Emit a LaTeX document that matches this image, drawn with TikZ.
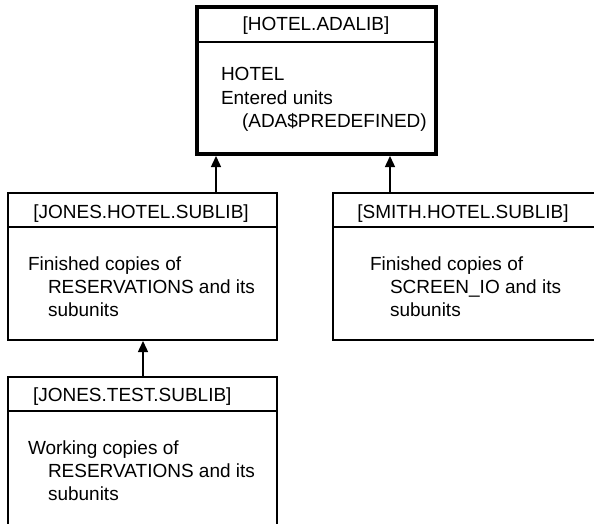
\documentclass[tikz,border=0pt]{standalone}
\usepackage{fontspec}
\setmainfont{Liberation Sans}
\usetikzlibrary{arrows.meta}
\begin{document}
\begin{tikzpicture}[x=1pt,y=-1pt,
  every node/.style={inner sep=0pt,outer sep=0pt,font=\fontsize{19}{23}\selectfont},
  libbox/.style={draw,line width=1.6pt,rectangle,anchor=north west},
  topbox/.style={draw,line width=3.2pt,rectangle,anchor=north west},
  txt/.style={anchor=base west},
  hdr/.style={anchor=base},
  conn/.style={line width=1.4pt,-{Triangle[length=11pt,width=10pt]}}
]
\useasboundingbox (0,0) rectangle (594,524);
\clip (0,0) rectangle (594,524);
% top library
\node[topbox,minimum width=239pt,minimum height=147pt] (top) at (197,7) {};
\coordinate (topL) at (197,42);
\coordinate (topR) at (436,42);
\draw[line width=2pt] (topL) -- (topR);
\node[hdr] (toph) at (316,31) {[HOTEL.ADALIB]};
\node[txt] (t1) at (221,81) {HOTEL};
\node[txt] (t2) at (221,105) {Entered units};
\node[txt] (t3) at (242,128) {(ADA\$PREDEFINED)};
% jones hotel
\node[libbox,minimum width=269pt,minimum height=147pt] (jh) at (8,193) {};
\coordinate (jhL) at (8,227);
\coordinate (jhR) at (277,227);
\draw[line width=1.6pt] (jhL) -- (jhR);
\node[hdr] (jhh) at (141,218) {[JONES.HOTEL.SUBLIB]};
\node[txt] (j1) at (28,270) {Finished copies of};
\node[txt] (j2) at (48,293) {RESERVATIONS and its};
\node[txt] (j3) at (48,316) {subunits};
% smith hotel
\node[libbox,minimum width=280pt,minimum height=147pt] (sh) at (333,193) {};
\coordinate (shL) at (333,227);
\coordinate (shR) at (613,227);
\draw[line width=1.6pt] (shL) -- (shR);
\node[hdr] (shh) at (463,218) {[SMITH.HOTEL.SUBLIB]};
\node[txt] (s1) at (370,270) {Finished copies of};
\node[txt] (s2) at (390,293) {SCREEN\_IO and its};
\node[txt] (s3) at (390,316) {subunits};
% jones test
\node[libbox,minimum width=269pt,minimum height=170pt] (jt) at (8,377) {};
\coordinate (jtL) at (8,411);
\coordinate (jtR) at (277,411);
\draw[line width=1.6pt] (jtL) -- (jtR);
\node[txt] (jth) at (33,401) {[JONES.TEST.SUBLIB]};
\node[txt] (w1) at (28,454) {Working copies of};
\node[txt] (w2) at (48,477) {RESERVATIONS and its};
\node[txt] (w3) at (48,500) {subunits};
% connectors
\coordinate (a1s) at (216,193);
\coordinate (a1e) at (216,156);
\coordinate (a2s) at (390,193);
\coordinate (a2e) at (390,156);
\coordinate (a3s) at (143,377);
\coordinate (a3e) at (143,341);
\draw[conn] (a1s) -- (a1e);
\draw[conn] (a2s) -- (a2e);
\draw[conn] (a3s) -- (a3e);
\end{tikzpicture}
\end{document}
